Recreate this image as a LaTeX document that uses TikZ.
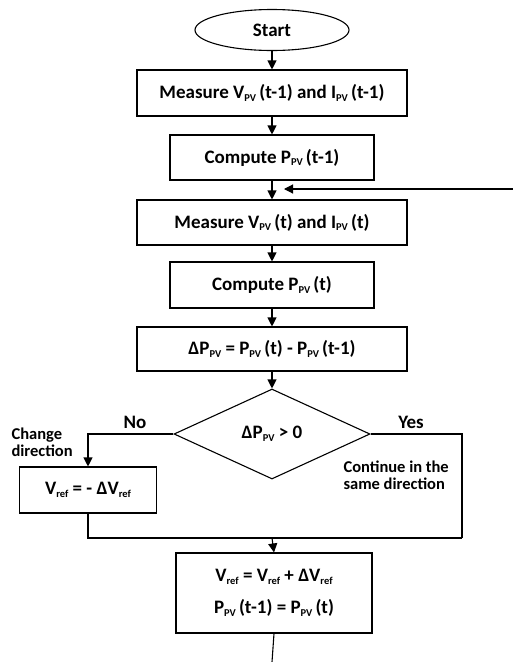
\documentclass[tikz,border=0pt]{standalone}
\usepackage{fontspec}
\setmainfont{Carlito}
\usetikzlibrary{shapes.geometric,arrows.meta}
\newcommand{\lowidx}[1]{\raisebox{-0.3ex}{\fontsize{10.5}{10.5}\selectfont #1}}
\begin{document}
\begin{tikzpicture}[x=1pt,y=-1pt,
  font=\bfseries\fontsize{19}{21}\selectfont,
  line width=1.1pt,
  box/.style={draw, inner sep=0pt, minimum height=46pt},
  arr/.style={-{Triangle[length=9pt,width=9pt]}, line width=1.1pt},
  lbl/.style={inner sep=0pt, font=\bfseries\fontsize{16.5}{17}\selectfont, align=left}]
\useasboundingbox (0,0) rectangle (513,662);
\node[draw, ellipse, minimum width=154pt, minimum height=41pt, inner sep=0pt] (start) at (272,30) {Start};
\node[box, minimum width=270pt] (m1) at (272,93) {Measure V\lowidx{PV}\,(t-1) and I\lowidx{PV}\,(t-1)};
\node[box, minimum width=204pt, minimum height=45pt] (c1) at (272,157.5) {Compute P\lowidx{PV}\,(t-1)};
\node[box, minimum width=270pt, minimum height=45pt] (m2) at (272,222.5) {Measure V\lowidx{PV}\,(t) and I\lowidx{PV}\,(t)};
\node[box, minimum width=204pt] (c2) at (272,285) {Compute P\lowidx{PV}\,(t)};
\node[box, minimum width=270pt, minimum height=44pt] (dp) at (272,349) {ΔP\lowidx{PV} = P\lowidx{PV}\,(t) - P\lowidx{PV}\,(t-1)};
\node[draw, diamond, minimum width=196pt, minimum height=90pt, inner sep=0pt] (d) at (272,434) {ΔP\lowidx{PV} > 0};
\node[box, minimum width=137pt] (lb) at (88,490) {V\lowidx{ref} = - ΔV\lowidx{ref}};
\node[box, minimum width=196pt, minimum height=80pt, align=center, font=\bfseries\fontsize{19}{32}\selectfont] (bb) at (274,593) {V\lowidx{ref} = V\lowidx{ref} + ΔV\lowidx{ref}\\P\lowidx{PV}\,(t-1) = P\lowidx{PV}\,(t)};
\node[inner sep=0pt] (no) at (135,422) {No};
\node[inner sep=0pt] (yes) at (411,422) {Yes};
\node[lbl, anchor=west] (cd) at (11,442) {Change\\direction};
\node[lbl, anchor=west] (cs) at (343,475) {Continue in the\\same direction};
\coordinate (fb) at (513,189);
\coordinate (fbe) at (284,189);
\coordinate (jl) at (88,538);
\coordinate (jr) at (462,538);
\coordinate (jm) at (272,538);
\coordinate (end) at (272,662);
\draw[arr] (start.south) -- (m1.north);
\draw[arr] (m1.south) -- (c1.north);
\draw[arr] (c1.south) -- (m2.north);
\draw[arr] (fb) -- (fbe);
\draw[arr] (m2.south) -- (c2.north);
\draw[arr] (c2.south) -- (dp.north);
\draw[arr] (dp.south) -- (d.north);
\draw[arr] (d.west) -| (lb.north);
\draw (d.east) -| (jr);
\draw (lb.south) -- (jl) -- (jr);
\draw[arr] (jm) -- (bb.north);
\draw (bb.south) -- (end);
\end{tikzpicture}
\end{document}
